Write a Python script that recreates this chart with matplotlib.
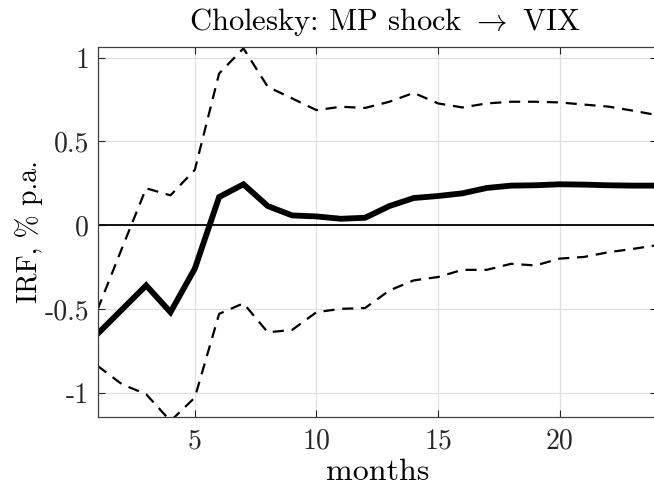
import matplotlib
matplotlib.use("Agg")
import matplotlib.pyplot as plt
import numpy as np

plt.rcParams['font.family'] = 'serif'
plt.rcParams['font.serif'] = ['cmr10']
plt.rcParams['mathtext.fontset'] = 'cm'
plt.rcParams['axes.unicode_minus'] = False

# impulse response of VIX to an MP shock, with bands
months = np.arange(1, 25)
irf = [-0.65, -0.505, -0.36, -0.52, -0.26, 0.168, 0.244, 0.114, 0.058, 0.052,
       0.038, 0.044, 0.114, 0.162, 0.174, 0.19, 0.222, 0.236, 0.238, 0.244,
       0.242, 0.238, 0.236, 0.236]
upper = [-0.505, -0.14, 0.22, 0.178, 0.33, 0.906, 1.056, 0.826, 0.757, 0.687,
         0.707, 0.70, 0.737, 0.79, 0.727, 0.703, 0.727, 0.737, 0.737, 0.733,
         0.72, 0.708, 0.684, 0.657]
lower = [-0.84, -0.95, -1.01, -1.17, -1.03, -0.53, -0.467, -0.64, -0.626, -0.52,
         -0.50, -0.495, -0.39, -0.33, -0.31, -0.267, -0.267, -0.231, -0.241, -0.20,
         -0.19, -0.162, -0.142, -0.12]

xticks = [5, 10, 15, 20]
yticks = [-1, -0.5, 0, 0.5, 1]
ytick_labels = ['-1', '-0.5', '0', '0.5', '1']

fig = plt.figure(figsize=(6.54, 4.93), dpi=100)
ax = fig.add_axes([97.5 / 654, 1 - 417 / 493, (657 - 97.5) / 654, (417 - 47) / 493])

ax.plot(months, upper, 'k--', lw=1.6, dashes=(5, 3.5))
ax.plot(months, lower, 'k--', lw=1.6, dashes=(5, 3.5))
ax.plot(months, irf, 'k-', lw=4.2, solid_joinstyle='miter')
ax.axhline(0, color='k', lw=1.3)

ax.set_xlim(1, 24)
ax.set_ylim(-1.146, 1.064)
ax.set_xticks(xticks)
ax.set_xticklabels([str(t) for t in xticks])
ax.set_yticks(yticks)
ax.set_yticklabels(ytick_labels)
ax.grid(True, color='#e0e0e0', lw=0.9)
ax.set_axisbelow(True)
ax.tick_params(direction='in', length=5, width=0.8, color='#262626',
               labelsize=20, labelcolor='#262626', top=True, right=True)
ax.tick_params(axis='x', pad=8)
ax.tick_params(axis='y', pad=6)
for s in ax.spines.values():
    s.set_color('#404040')
    s.set_linewidth(0.9)

ax.set_title(r'Cholesky: MP shock $\rightarrow$ VIX', fontsize=22, pad=12, x=0.513)
ax.set_xlabel('months', fontsize=23, labelpad=3)
ax.set_ylabel('IRF, % p.a.', fontsize=20)
ax.yaxis.set_label_coords(-0.097, 0.5)

fig.savefig('out.png', dpi=100)
